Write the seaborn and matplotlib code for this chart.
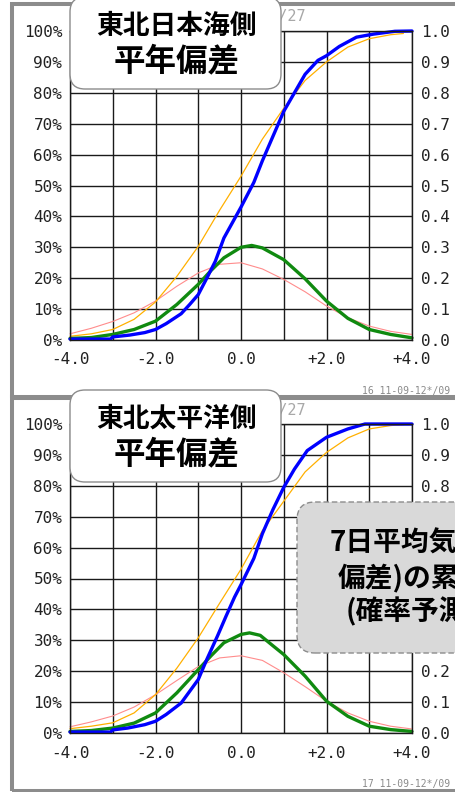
import numpy as np
import pandas as pd
import matplotlib
matplotlib.use("Agg")
import matplotlib.pyplot as plt
import seaborn as sns
from matplotlib.patches import FancyBboxPatch, Rectangle
from matplotlib.transforms import IdentityTransform

# ---- data ----
x_ticks = [-4, -2, 0, 2, 4]
x_tick_labels = ["-4.0", "-2.0", "0.0", "+2.0", "+4.0"]
x_minor = [-3, -1, 1, 3]
pct_ticks = [0, 10, 20, 30, 40, 50, 60, 70, 80, 90, 100]
pct_labels = ["0%", "10%", "20%", "30%", "40%", "50%", "60%", "70%", "80%", "90%", "100%"]
prob_ticks = [0.0, 0.1, 0.2, 0.3, 0.4, 0.5, 0.6, 0.7, 0.8, 0.9, 1.0]
prob_labels = ["0.0", "0.1", "0.2", "0.3", "0.4", "0.5", "0.6", "0.7", "0.8", "0.9", "1.0"]

panel_titles = [["東北日本海側", "平年偏差"], ["東北太平洋側", "平年偏差"]]
panel_codes = ["16 11-09-12*/09", "17 11-09-12*/09"]
note_lines = ["7日平均気温(平年", "偏差)の累積確率", "(確率予測)"]

clim_x = [-4, -3.5, -3, -2.5, -2, -1.5, -1, -0.5, 0, 0.5, 1, 1.5, 2, 2.5, 3, 3.5, 3.8]
clim_pdf_x = [-4, -3.5, -3, -2.5, -2, -1.5, -1, -0.5, 0, 0.5, 1, 1.5, 2, 2.5, 3, 3.5, 4]

# top panel (東北日本海側)
top_blue_x = [-4.0, -3.05, -3.0, -2.6, -2.25, -2.0, -1.75, -1.4, -1.2, -1.0, -0.8, -0.6, -0.4,
              -0.2, 0.0, 0.3, 0.5, 0.75, 1.0, 1.25, 1.5, 1.8, 2.0, 2.3, 2.7, 3.1, 3.6, 4.0]
top_blue_y = [0.3, 0.3, 1.0, 1.6, 2.4, 3.4, 5.3, 8.5, 11.5, 14.7, 20.0, 25.5, 33.0,
              38.0, 43.0, 51.0, 58.0, 66.0, 74.0, 80.0, 86.0, 90.5, 92.0, 95.0, 98.0, 99.0, 99.9, 100.0]
top_orange_y = [1.2, 2.0, 3.4, 6.7, 12.3, 20.6, 30.3, 42.0, 53.0, 65.0, 75.0, 84.0, 90.0,
                94.8, 97.5, 98.8, 99.2]
top_pink_y = [2.0, 3.8, 6.0, 8.8, 12.6, 17.4, 21.7, 24.5, 25.0, 23.0, 19.6, 15.6, 11.0,
              7.2, 4.5, 2.8, 1.8]
top_green_x = [-4, -3.5, -3, -2.5, -2, -1.5, -1, -0.7, -0.4, 0, 0.25, 0.5, 1, 1.5, 2, 2.5, 3, 3.5, 4]
top_green_y = [0.5, 0.8, 1.8, 3.4, 6.1, 11.5, 18.0, 22.5, 26.6, 30.0, 30.6, 29.8, 26.0,
               19.8, 12.6, 7.0, 3.4, 1.8, 0.7]

# bottom panel (東北太平洋側)
bot_blue_x = [-4.0, -3.05, -3.0, -2.65, -2.25, -2.0, -1.75, -1.4, -1.2, -1.0, -0.8, -0.55, -0.35,
              -0.15, 0.0, 0.3, 0.5, 0.75, 1.0, 1.25, 1.55, 2.0, 2.5, 2.9, 4.0]
bot_blue_y = [0.3, 0.3, 1.0, 1.6, 2.7, 3.8, 6.0, 9.7, 13.5, 17.3, 23.8, 31.4, 37.8,
              44.0, 48.0, 56.5, 64.5, 72.4, 79.5, 85.4, 91.4, 95.7, 98.4, 100.0, 100.0]
bot_orange_y = [1.4, 2.2, 3.3, 6.5, 12.4, 21.0, 30.8, 42.0, 53.0, 65.5, 75.0, 84.5, 90.8,
                95.5, 98.4, 99.5, 99.8]
bot_pink_y = [2.0, 3.6, 5.5, 8.4, 12.4, 17.0, 21.5, 24.3, 25.0, 23.5, 19.5, 15.0, 10.3,
              6.5, 3.8, 2.2, 1.3]
bot_green_x = [-4, -3.5, -3, -2.5, -2, -1.5, -1, -0.7, -0.4, 0, 0.2, 0.45, 0.75, 1, 1.5, 2,
               2.5, 3, 3.5, 4]
bot_green_y = [0.5, 0.8, 1.6, 3.2, 6.5, 13.0, 20.5, 25.0, 29.2, 31.9, 32.4, 31.6, 28.2, 25.4,
               18.4, 10.3, 5.4, 2.2, 1.1, 0.5]

W, H = 455, 792
MONO = "DejaVu Sans Mono"
CJK = ["Noto Sans CJK JP", "DejaVu Sans"]

sns.set_style("white")
plt.rcParams["font.family"] = ["DejaVu Sans Mono", "DejaVu Sans"]


def px(x, y):
    # top-left pixel coords -> display coords
    return x, H - y


def draw_panel(fig, top_px, curves, title, code):
    left, right, bottom_px = 70, 412, top_px + 309
    ax = fig.add_axes([left / W, (H - bottom_px) / H, (right - left) / W, (bottom_px - top_px) / H])
    ax.set_facecolor("white")

    for xs, ys, color, lw in curves:
        df = pd.DataFrame({"x": xs, "y": ys})
        sns.lineplot(data=df, x="x", y="y", ax=ax, color=color, linewidth=lw, sort=False,
                     estimator=None)
    for line in ax.lines:
        line.set_clip_on(False)

    ax.set_xlim(-4, 4)
    ax.set_ylim(0, 100)
    ax.set_xticks(x_ticks)
    ax.set_xticklabels(x_tick_labels, fontsize=11.5, family=MONO)
    ax.set_xticks(x_minor, minor=True)
    ax.set_yticks(pct_ticks)
    ax.set_yticklabels(pct_labels, fontsize=11.5, family=MONO)
    ax.set_xlabel("")
    ax.set_ylabel("")
    ax.tick_params(axis="x", which="both", length=0, pad=9, colors="#222222")
    ax.tick_params(axis="y", length=0, pad=5.5, colors="#222222")
    ax.grid(True, which="both", axis="x", color="#1a1a1a", linewidth=1.0)
    ax.grid(True, which="major", axis="y", color="#1a1a1a", linewidth=1.0)
    ax.set_axisbelow(True)
    for s in ax.spines.values():
        s.set_color("#1a1a1a")
        s.set_linewidth(1.0)

    ax2 = ax.twinx()
    ax2.set_ylim(0, 1)
    ax2.set_yticks(prob_ticks)
    ax2.set_yticklabels(prob_labels, fontsize=11.5, family=MONO)
    ax2.tick_params(axis="y", length=0, pad=6.5, colors="#222222")
    for s in ax2.spines.values():
        s.set_visible(False)
    ax2.grid(False)

    # panel frame
    frame_top = top_px - 27
    frame_bot = top_px + 367
    fig.add_artist(Rectangle(px(12, frame_bot), 480, frame_bot - frame_top, fill=False,
                             edgecolor="#8c8c8c", linewidth=2.9, transform=IdentityTransform(),
                             zorder=0.5))

    # date label partly hidden by title box
    fig.add_artist(plt.Text(*px(306, top_px - 14), "09/27", ha="right", va="center",
                            fontsize=11, family=MONO, color="#a8a8a8",
                            transform=IdentityTransform(), zorder=1))

    # title box
    bx0, by0, bx1, by1 = 70, top_px - 34, 281, top_px + 58
    fig.add_artist(FancyBboxPatch(px(bx0, by1), bx1 - bx0, by1 - by0,
                                  boxstyle="round,pad=0,rounding_size=15",
                                  facecolor="white", edgecolor="#8c8c8c", linewidth=1.0,
                                  transform=IdentityTransform(), zorder=5))
    fig.add_artist(plt.Text(*px(176, top_px - 5), title[0], ha="center", va="center",
                            fontsize=19.3, fontweight="bold", family=CJK, color="black",
                            transform=IdentityTransform(), zorder=6))
    fig.add_artist(plt.Text(*px(176.5, top_px + 30), title[1], ha="center", va="center",
                            fontsize=22.7, fontweight="bold", family=CJK, color="black",
                            transform=IdentityTransform(), zorder=6))

    fig.add_artist(plt.Text(*px(362, top_px + 360), code, ha="left", va="center",
                            fontsize=7, family=MONO, color="#8a8a8a",
                            transform=IdentityTransform(), zorder=6))
    return ax


def main():
    fig = plt.figure(figsize=(W / 100, H / 100), dpi=100)
    fig.patch.set_facecolor("white")

    top_curves = [
        (clim_pdf_x, top_pink_y, "#ff8c8c", 0.8),
        (clim_x, top_orange_y, "#ffb000", 0.9),
        (top_green_x, top_green_y, "#108a10", 2.4),
        (top_blue_x, top_blue_y, "#0000ff", 2.4),
    ]
    bot_curves = [
        (clim_pdf_x, bot_pink_y, "#ff8c8c", 0.8),
        (clim_x, bot_orange_y, "#ffb000", 0.9),
        (bot_green_x, bot_green_y, "#108a10", 2.4),
        (bot_blue_x, bot_blue_y, "#0000ff", 2.4),
    ]
    draw_panel(fig, 31, top_curves, panel_titles[0], panel_codes[0])
    draw_panel(fig, 424, bot_curves, panel_titles[1], panel_codes[1])

    # grey dashed note box
    gx0, gy0, gx1, gy1 = 297, 502, 520, 653
    fig.add_artist(FancyBboxPatch(px(gx0, gy1), gx1 - gx0, gy1 - gy0,
                                  boxstyle="round,pad=0,rounding_size=18",
                                  facecolor="#d9d9d9", edgecolor="#8c8c8c", linewidth=1.0,
                                  linestyle=(0, (4, 2)), transform=IdentityTransform(), zorder=5))
    note_pos = [(330, 543), (338, 579), (346, 611)]
    for txt, (lx, ly) in zip(note_lines, note_pos):
        fig.add_artist(plt.Text(*px(lx, ly), txt, ha="left", va="center", fontsize=20,
                                fontweight="bold", family=CJK, color="black",
                                transform=IdentityTransform(), zorder=6))

    fig.savefig("out.png", dpi=100, facecolor="white")
    plt.close(fig)


if __name__ == "__main__":
    main()
